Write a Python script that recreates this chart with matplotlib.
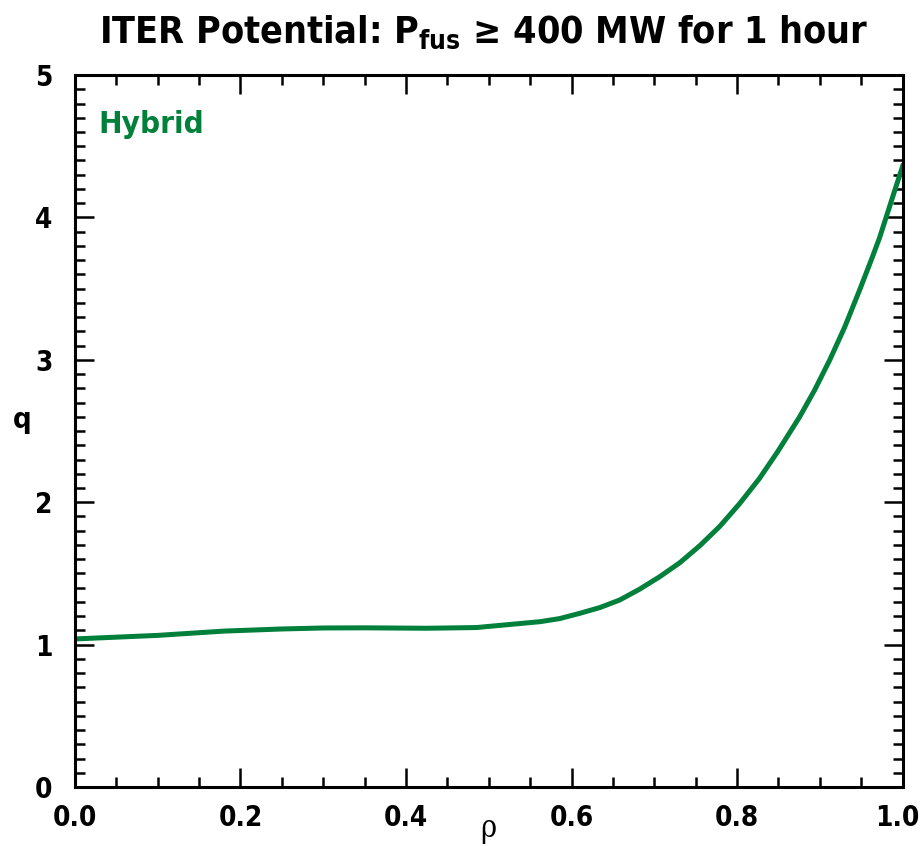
import numpy as np
import matplotlib
matplotlib.use("Agg")
import matplotlib.pyplot as plt
import matplotlib.transforms as mtransforms
from matplotlib.ticker import MultipleLocator, FormatStrFormatter

# q profile
rho = [0.0, 0.1, 0.18, 0.25, 0.3, 0.35, 0.425, 0.485, 0.5616, 0.5857, 0.61,
       0.634, 0.658, 0.6824, 0.7065, 0.7307, 0.755, 0.779, 0.803, 0.827,
       0.849, 0.8756, 0.8937, 0.912, 0.93, 0.948, 0.962, 0.972, 0.988, 1.0]
q = [1.04, 1.065, 1.095, 1.11, 1.117, 1.118, 1.115, 1.12, 1.161, 1.183, 1.22,
     1.26, 1.313, 1.39, 1.477, 1.575, 1.695, 1.83, 1.99, 2.167,
     2.355, 2.60, 2.788, 3.0, 3.23, 3.49, 3.70, 3.855, 4.145, 4.36]

title = r"ITER Potential: P$_{\mathbf{fus}}$ ≥ 400 MW for 1 hour"
label = "Hybrid"
green = "#00803A"

plt.rcParams["font.family"] = ["DejaVu Sans"]
plt.rcParams["font.stretch"] = "condensed"
plt.rcParams["mathtext.fontset"] = "custom"
plt.rcParams["mathtext.bf"] = "DejaVu Sans:bold"
plt.rcParams["mathtext.rm"] = "DejaVu Sans:bold"

fig = plt.figure(figsize=(9.22, 8.46), dpi=100)
ax = fig.add_axes([0.0813, 0.0697, 0.8977, 0.8416])

ax.plot(rho, q, color=green, lw=3.6, solid_joinstyle="round")

ax.set_xlim(0, 1)
ax.set_ylim(0, 5)
ax.xaxis.set_major_locator(MultipleLocator(0.2))
ax.xaxis.set_minor_locator(MultipleLocator(0.05))
ax.yaxis.set_major_locator(MultipleLocator(1))
ax.yaxis.set_minor_locator(MultipleLocator(0.1))
ax.xaxis.set_major_formatter(FormatStrFormatter("%.1f"))

ax.tick_params(which="both", direction="in", top=True, right=True, width=1.8,
               labelsize=20)
ax.tick_params(axis="x", pad=12)
ax.tick_params(axis="y", pad=16)
ax.tick_params(which="major", length=14)
ax.tick_params(which="minor", length=7)
for lab in ax.get_xticklabels() + ax.get_yticklabels():
    lab.set_fontweight("bold")
for s in ax.spines.values():
    s.set_linewidth(2.2)

ax.set_xlabel("ρ", fontsize=22, family="DejaVu Serif", va="center")
ax.xaxis.set_label_coords(0.5, -0.058)
ax.set_ylabel("q", fontsize=21, fontweight="bold", rotation=0, va="center")
ax.yaxis.set_label_coords(-0.064, 0.515)

ax.text(0.028, 0.93, label, transform=ax.transAxes, color=green, fontsize=22.5,
        fontweight="bold", va="center", ha="left")

fig.text(484 / 922, 1 - 32 / 846, title, fontsize=27, fontweight="bold",
         ha="center", va="center")

# nudge the "1.0" label left so it stays inside the figure
fig.canvas.draw()
for t in ax.xaxis.get_major_ticks():
    if abs(t.get_loc() - 1.0) < 1e-9:
        t.label1.set_transform(t.label1.get_transform() +
                               mtransforms.ScaledTranslation(-0.05, 0, fig.dpi_scale_trans))

fig.savefig("out.png", dpi=100)
